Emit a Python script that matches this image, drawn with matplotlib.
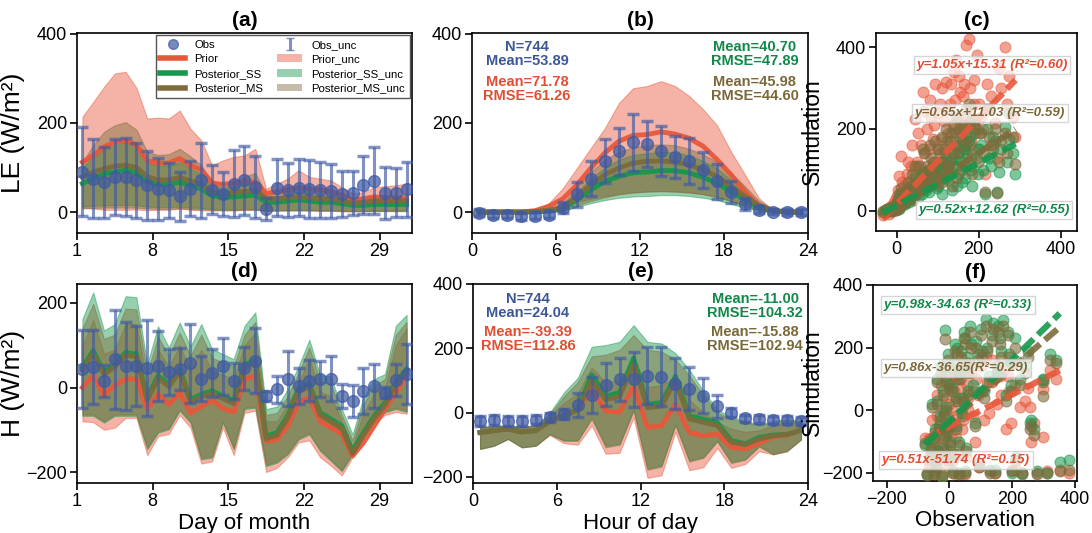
import numpy as np
import matplotlib
matplotlib.use("Agg")
import matplotlib.pyplot as plt
from matplotlib.lines import Line2D
from matplotlib.patches import Patch
from matplotlib.container import ErrorbarContainer
from matplotlib.collections import LineCollection

plt.rcParams['font.family'] = ['Liberation Sans', 'DejaVu Sans']

# ---------------- data ----------------
days = list(range(1, 32))
hours = list(range(0, 24))

# (a) LE daily
a_obs = [90, 75, 67, 79, 79, 71, 60, 52, 49, 35, 52, 71, 50, 40, 64, 71, 56, 7, 55, 49, 55, 52, 50, 47, 41, 43, 60, 70, 43, 43, 51]
a_obs_unc = [100, 88, 80, 85, 88, 85, 78, 70, 62, 55, 62, 85, 55, 50, 75, 78, 70, 25, 65, 60, 65, 65, 63, 60, 52, 50, 65, 75, 58, 55, 62]
a_prior = [112, 127, 146, 157, 161, 150, 115, 110, 110, 120, 105, 95, 65, 62, 65, 67, 68, 42, 45, 50, 55, 52, 50, 46, 38, 26, 30, 34, 32, 30, 30]
a_prior_hi = [214, 247, 281, 311, 315, 279, 210, 212, 210, 228, 187, 161, 105, 116, 124, 127, 142, 52, 64, 75, 94, 79, 75, 71, 56, 41, 45, 56, 58, 60, 64]
a_prior_lo = [10, 8, 5, 5, 5, 6, 4, 5, 5, 8, 5, 4, 3, 4, 4, 5, 5, 2, 4, 4, 5, 4, 3, 3, 2, 1, 2, 3, 3, 3, 3]
a_ss = [64, 75, 86, 90, 94, 88, 68, 62, 62, 67, 60, 52, 36, 33, 34, 36, 38, 22, 22, 25, 27, 25, 22, 22, 19, 15, 15, 17, 17, 17, 17]
a_ss_hi = [101, 122, 140, 150, 158, 148, 112, 104, 104, 112, 98, 85, 58, 55, 58, 62, 66, 35, 36, 40, 45, 40, 36, 35, 30, 23, 25, 28, 28, 28, 28]
a_ss_lo = [12, 14, 15, 15, 16, 15, 12, 11, 11, 12, 10, 9, 7, 6, 6, 7, 7, 4, 4, 5, 5, 5, 4, 4, 3, 3, 3, 3, 3, 3, 3]
a_ms = [79, 90, 97, 103, 105, 100, 80, 72, 72, 78, 70, 62, 45, 42, 44, 46, 49, 30, 30, 32, 34, 32, 30, 30, 26, 20, 22, 25, 25, 25, 25]
a_ms_hi = [112, 150, 180, 195, 202, 185, 135, 128, 130, 142, 125, 105, 68, 65, 70, 79, 88, 41, 47, 50, 56, 52, 50, 48, 41, 30, 33, 38, 38, 38, 38]
a_ms_lo = [8, 9, 10, 10, 10, 10, 8, 7, 7, 8, 7, 6, 5, 4, 4, 5, 5, 3, 3, 3, 3, 3, 3, 3, 2, 2, 2, 2, 2, 2, 2]

# (b) LE hourly
b_obs = [-2, -6, -6, -10, -8, -6, 10, 40, 75, 115, 136, 157, 153, 138, 123, 115, 95, 69, 45, 18, 5, 1, 0, 0]
b_obs_unc = [8, 8, 8, 8, 8, 8, 12, 28, 40, 50, 52, 64, 51, 56, 47, 51, 40, 39, 25, 13, 8, 6, 6, 6]
b_prior = [0, 0, 0, 0, 3, 13, 30, 61, 99, 133, 159, 172, 174, 180, 175, 166, 148, 118, 84, 46, 13, 3, 0, 0]
b_prior_hi = [1, 1, 1, 1, 5, 20, 54, 99, 144, 189, 245, 278, 283, 294, 283, 261, 231, 195, 136, 84, 31, 5, 1, 1]
b_prior_lo = [-1, -1, -1, -1, 0, 3, 12, 22, 30, 36, 40, 44, 46, 47, 46, 44, 40, 34, 25, 14, 4, 0, -1, -1]
b_ss = [0, 0, 0, 0, 0, 2, 7, 28, 50, 69, 80, 88, 90, 93, 93, 88, 78, 65, 46, 28, 10, 3, 0, 0]
b_ss_hi = [2, 2, 2, 2, 2, 6, 18, 45, 75, 100, 118, 128, 132, 135, 134, 128, 115, 98, 72, 45, 18, 5, 2, 2]
b_ss_lo = [-2, -2, -2, -2, -2, 0, 2, 12, 20, 27, 32, 35, 36, 38, 38, 36, 32, 27, 18, 10, 3, 0, -2, -2]
b_ms = [0, 0, 0, 0, 1, 4, 10, 35, 61, 84, 99, 110, 114, 115, 112, 106, 95, 80, 58, 35, 15, 4, 0, 0]
b_ms_hi = [2, 2, 2, 2, 3, 8, 20, 55, 90, 118, 135, 145, 150, 152, 150, 142, 130, 112, 88, 58, 25, 6, 2, 2]
b_ms_lo = [-2, -2, -2, -2, -1, 1, 3, 15, 25, 33, 40, 44, 46, 47, 46, 44, 40, 34, 25, 14, 4, 0, -2, -2]

# (d) H daily
d_obs = [44, 48, 16, 67, 51, 51, 46, 51, 36, 44, 57, 21, 34, 50, 16, 45, 63, -20, -4, 21, 4, 16, 20, 21, -20, -32, -8, 4, -12, 18, 32]
d_obs_unc = [92, 88, 38, 117, 105, 95, 113, 82, 54, 50, 93, 54, 57, 68, 43, 50, 77, 11, 32, 65, 43, 48, 42, 53, 28, 38, 55, 52, 14, 37, 70]
d_prior = [0, 28, -18, 5, 20, 20, -51, -16, -40, -12, -60, -45, -30, -50, -58, 20, 28, -127, -123, -91, -35, -24, -80, -95, -110, -162, -131, -91, -51, -12, 30]
d_prior_hi = [100, 160, 80, 90, 150, 150, 10, 90, 50, 100, 40, 90, 40, 30, 20, 100, 130, -80, -80, -40, 10, 70, -10, -20, -80, -140, -60, -15, 0, 100, 140]
d_prior_lo = [-80, -82, -100, -95, -72, -72, -160, -115, -110, -65, -95, -180, -175, -95, -160, -60, -55, -200, -190, -165, -130, -125, -165, -185, -208, -165, -115, -85, -65, -58, -62]
d_ss = [48, 87, 36, 55, 83, 79, -24, 28, 8, 44, -28, -16, -8, -20, -32, 55, 63, -115, -107, -67, -4, 8, -59, -75, -91, -150, -107, -67, -36, 12, 44]
d_ss_hi = [162, 225, 135, 150, 216, 214, 55, 145, 95, 154, 97, 150, 91, 79, 67, 146, 178, -51, -45, -4, 50, 113, 29, 26, -51, -111, -24, 20, 32, 146, 172]
d_ss_lo = [-67, -67, -83, -67, -67, -67, -146, -107, -99, -55, -83, -170, -166, -83, -146, -51, -48, -186, -178, -158, -123, -111, -150, -174, -198, -158, -107, -79, -59, -51, -58]
d_ms = [42, 80, 30, 50, 77, 73, -30, 22, 2, 38, -34, -22, -14, -26, -38, 49, 57, -121, -113, -73, -10, 2, -65, -81, -97, -156, -113, -73, -42, 6, 38]
d_ms_hi = [140, 198, 115, 125, 187, 185, 35, 120, 75, 130, 75, 125, 70, 60, 50, 125, 155, -65, -60, -20, 35, 95, 15, 10, -65, -125, -40, 5, 20, 125, 155]
d_ms_lo = [-64, -64, -80, -64, -64, -64, -142, -104, -96, -52, -80, -167, -163, -80, -143, -48, -45, -183, -175, -155, -120, -108, -147, -171, -195, -155, -104, -76, -56, -48, -55]

# (e) H hourly
e_obs = [-26, -23, -26, -26, -22, -15, -5, 24, 56, 87, 103, 103, 115, 111, 90, 74, 53, 20, 0, -18, -20, -22, -22, -26]
e_obs_unc = [15, 15, 15, 15, 15, 15, 15, 38, 56, 67, 68, 87, 88, 92, 80, 67, 54, 36, 15, 12, 12, 12, 12, 12]
e_prior = [-62, -56, -51, -60, -56, -26, -10, 10, 72, 5, 2, 82, -46, -41, 26, -62, -72, -67, -108, -113, -95, -75, -70, -55]
e_prior_hi = [-45, -42, -40, -45, -40, -10, 30, 60, 140, 95, 100, 170, 80, 85, 110, 40, 0, -30, -50, -60, -55, -40, -30, -30]
e_prior_lo = [-113, -103, -82, -108, -103, -70, -95, -100, -40, -128, -125, -15, -203, -195, -60, -179, -170, -110, -172, -160, -120, -130, -120, -84]
e_ss = [-62, -56, -51, -60, -56, -26, -10, 10, 118, 51, 62, 169, 26, 31, 113, -10, -21, -31, -87, -97, -77, -70, -68, -55]
e_ss_hi = [-45, -42, -40, -45, -40, 0, 62, 108, 205, 210, 220, 272, 220, 215, 185, 133, 67, 10, -15, -26, -36, -26, -20, -26]
e_ss_lo = [-113, -103, -82, -108, -103, -67, -87, -87, -15, -103, -97, 10, -174, -164, -36, -149, -138, -87, -154, -144, -103, -128, -118, -82]
e_ms = [-62, -56, -51, -60, -56, -26, -10, 8, 100, 40, 50, 150, 15, 20, 100, -20, -30, -40, -92, -100, -82, -72, -68, -55]
e_ms_hi = [-45, -42, -40, -45, -40, -5, 50, 95, 175, 180, 195, 241, 195, 190, 165, 115, 55, 0, -20, -30, -40, -30, -25, -30]
e_ms_lo = [-113, -103, -82, -108, -103, -67, -87, -87, -20, -108, -100, 5, -178, -168, -40, -152, -141, -90, -157, -147, -106, -130, -120, -84]

# (c) LE scatter: observation vs simulations (representative points read from the cloud)
c_obs = [-34, -28, -22, -18, -15, -12, -8, -5, -3, 0, 2, 5, 8, 10, 12, 15, 18, 22, 25, 30, 35, 40, 45, 50, 55, 60, 65, 70, 75, 80,
         85, 90, 95, 100, 105, 110, 115, 120, 125, 130, 135, 140, 145, 150, 155, 160, 165, 170, 176, 180, 185, 190, 195, 200,
         210, 215, 220, 230, 240, 245, 250, 265, 275, 290,
         -25, -20, -10, -6, -2, 1, 3, 6, 9, 14, 20, 28, 33, 38, 42, 48, 52, 58, 62, 68, 72, 78, 82, 88, 92, 98, 102, 108,
         112, 118, 122, 128, 132, 138, 142, 148, 152, 158, 162, 168, 172, 178, 182, 188, 198, 205, 225, 235, 255, 270, 285]
c_prior = [-10, -5, 2, -8, 10, 0, 15, 5, 25, 8, 35, 85, 20, 133, 45, 30, 60, 40, 90, 70, 110, 55, 225, 120, 80, 160, 290, 140, 200, 100,
           230, 175, 310, 150, 260, 120, 220, 315, 190, 260, 95, 340, 370, 230, 290, 180, 310, 405, 420, 250, 140, 320, 380, 260,
           200, 90, 310, 280, 215, 130, 350, 400, 330, 180,
           0, 5, -2, 12, 3, 15, 50, 10, 28, 70, 25, 120, 45, 160, 95, 65, 190, 110, 75, 245, 95, 150, 270, 120, 210, 85, 240, 175,
           300, 140, 250, 160, 310, 200, 270, 110, 330, 210, 280, 150, 230, 300, 170, 260, 150, 230, 250, 160, 300, 260, 230]
c_ss = [-3, 0, 5, 2, 6, 3, 8, 4, 10, 6, 15, 30, 10, 40, 20, 18, 25, 22, 35, 20, 45, 30, 80, 50, 35, 60, 95, 55, 70, 45,
        90, 65, 110, 60, 95, 40, 100, 130, 75, 120, 50, 140, 155, 90, 125, 70, 150, 160, 170, 110, 60, 190, 130, 150,
        100, 40, 200, 110, 170, 45, 95, 205, 175, 90,
        2, 4, 1, 6, 2, 8, 20, 5, 14, 30, 15, 50, 28, 60, 45, 40, 70, 55, 40, 90, 50, 80, 100, 70, 90, 55, 110, 100,
        120, 80, 110, 90, 130, 110, 160, 60, 140, 120, 170, 80, 140, 180, 100, 200, 90, 160, 130, 180, 150, 120, 140]
c_ms = [-2, 0, 3, 0, 5, 2, 10, 3, 12, 5, 20, 40, 12, 55, 25, 15, 30, 28, 50, 35, 60, 25, 110, 65, 45, 90, 150, 75, 110, 60,
        130, 95, 170, 80, 140, 70, 150, 200, 110, 170, 60, 210, 230, 140, 180, 100, 210, 250, 260, 160, 90, 220, 200, 190,
        140, 45, 250, 160, 200, 43, 120, 190, 240, 115,
        1, 3, 0, 8, 2, 10, 25, 6, 18, 40, 20, 70, 30, 90, 60, 45, 110, 70, 55, 140, 65, 100, 160, 85, 120, 65, 150, 120,
        180, 100, 170, 120, 190, 140, 190, 80, 200, 160, 200, 110, 180, 220, 130, 210, 120, 190, 180, 150, 170, 140, 180]
c_fit_range = [-34, 290]

# (f) H scatter
f_obs = [-77, -70, -60, -55, -50, -45, -40, -35, -30, -25, -20, -15, -14, -10, -5, 0, 5, 10, 15, 20, 25, 30, 35, 40, 45, 50,
         55, 60, 70, 80, 90, 100, 110, 120, 130, 140, 150, 160, 171, 180, 190, 200, 213, 223, 240, 255, 269, 280, 297, 299,
         320, 351, 381,
         -65, -48, -42, -38, -32, -28, -22, -18, -12, -8, -3, 2, 7, 12, 18, 22, 28, 32, 38, 42, 48, 52, 58, 65, 75, 85, 95,
         105, 115, 125, 135, 145, 155, 165, 185, 195, 210, 230, 250, 260, 310, 340]
f_prior = [-90, -200, -150, -30, -210, -100, 50, -160, -60, -205, 0, -120, 130, -40, -180, 20, -80, -200, 60, -20, 100, -140,
           40, -60, 150, -205, 80, 0, 120, -100, 50, 140, -30, 90, -195, 160, 20, 110, 130, -60, 60, -190, -191, 11, 30, 11,
           -40, -200, 69, -85, 130, -190, -200,
           -180, -120, -190, -20, -90, 80, -150, -60, 40, -100, 90, -130, 0, -160, 110, -90, 30, -210, 70, -30, 120, -150, 40,
           150, -20, 100, -180, 60, 170, -10, 90, -200, 130, 50, 110, -40, 80, -200, 70, -100, -195, 100]
f_ss = [-105, -205, -120, 20, -200, -60, 100, -130, -20, -210, 60, -80, 255, 10, -150, 80, -40, -195, 150, 40, 200, -100,
        120, -10, 250, -195, 170, 60, 210, -40, 180, 260, 60, 200, -190, 280, 140, 230, 287, 50, 180, -200, -150, 100, 140,
        -40, -59, -195, 101, 96, 180, -165, -160,
        -150, -90, -170, 30, -50, 140, -120, -10, 110, -60, 180, -100, 70, -140, 210, -50, 120, -200, 190, 40, 230, -120, 140,
        270, 80, 220, -170, 190, 290, 110, 240, -190, 270, 190, 250, 80, 230, -205, 190, -30, -200, 160]
f_ms = [-110, -208, -130, 10, -205, -70, 90, -140, -30, -212, 50, -90, 229, 0, -160, 70, -50, -200, 130, 30, 180, -110,
        100, -20, 230, -200, 150, 50, 200, -50, 160, 240, 40, 190, -200, 260, 120, 210, 270, 30, 170, -195, -160, 80, 120,
        -60, -80, -205, 90, 45, 160, -195, -192,
        -160, -100, -180, 20, -60, 120, -130, -20, 90, -70, 160, -110, 60, -150, 190, -60, 100, -205, 170, 30, 210, -130, 120,
        250, 60, 200, -180, 170, 270, 90, 220, -200, 250, 170, 240, 60, 200, -200, 170, -50, -200, 150]
f_fit_range = [-77, 351]

# regression annotations (slope, intercept, label)
c_fits = {'prior': (1.05, 15.31, 'y=1.05x+15.31 (R²=0.60)'),
          'ms': (0.65, 11.03, 'y=0.65x+11.03 (R²=0.59)'),
          'ss': (0.52, 12.62, 'y=0.52x+12.62 (R²=0.55)')}
f_fits = {'ss': (0.98, -34.63, 'y=0.98x-34.63 (R²=0.33)'),
          'ms': (0.86, -36.65, 'y=0.86x-36.65(R²=0.29)'),
          'prior': (0.51, -51.74, 'y=0.51x-51.74 (R²=0.15)')}

b_stats = {'obs': ['N=744', 'Mean=53.89'], 'prior': ['Mean=71.78', 'RMSE=61.26'],
           'ss': ['Mean=40.70', 'RMSE=47.89'], 'ms': ['Mean=45.98', 'RMSE=44.60']}
e_stats = {'obs': ['N=744', 'Mean=24.04'], 'prior': ['Mean=-39.39', 'RMSE=112.86'],
           'ss': ['Mean=-11.00', 'RMSE=104.32'], 'ms': ['Mean=-15.88', 'RMSE=102.94']}

# ---------------- style ----------------
C_OBS = '#3f5aa3'
C_PRIOR = '#e8573a'
C_SS = '#16974c'
C_MS = '#7d6c3c'
T_OBS = '#3c5797'
T_PRIOR = '#e04f33'
T_SS = '#10884a'
T_MS = '#7a6838'
BAND_A = 0.45

fig = plt.figure(figsize=(10.92, 5.33), dpi=100)
ax_a = fig.add_axes([0.0705, 0.5629, 0.3068, 0.3752])
ax_b = fig.add_axes([0.4322, 0.5629, 0.3077, 0.3752])
ax_c = fig.add_axes([0.8022, 0.5666, 0.1841, 0.3715])
ax_d = fig.add_axes([0.0705, 0.0938, 0.3068, 0.3734])
ax_e = fig.add_axes([0.4332, 0.0938, 0.3067, 0.3734])
ax_f = fig.add_axes([0.7995, 0.0976, 0.1868, 0.3677])


def style_axis(ax):
    for s in ax.spines.values():
        s.set_linewidth(1.2)
    ax.tick_params(labelsize=13, length=5, width=1.2, direction='out', pad=2)


def ts_panel(ax, x, obs, obs_unc, prior, prior_lo, prior_hi, ss, ss_lo, ss_hi, ms, ms_lo, ms_hi):
    ax.fill_between(x, prior_lo, prior_hi, color=C_PRIOR, alpha=BAND_A, lw=0.8, zorder=1)
    ax.fill_between(x, ss_lo, ss_hi, color=C_SS, alpha=BAND_A, lw=0.8, zorder=2)
    ax.fill_between(x, ms_lo, ms_hi, color=C_MS, alpha=BAND_A, lw=0.8, zorder=3)
    ax.plot(x, prior, color=C_PRIOR, lw=3.5, alpha=0.95, zorder=4)
    ax.plot(x, ss, color=C_SS, lw=3.5, alpha=0.95, zorder=5)
    ax.plot(x, ms, color=C_MS, lw=3.5, alpha=0.95, zorder=6)
    ax.errorbar(x, obs, yerr=obs_unc, fmt='none', ecolor=C_OBS, elinewidth=2.2,
                capsize=4.5, capthick=2.5, alpha=0.65, zorder=7)
    ax.plot(x, obs, 'o', color=C_OBS, ms=8.5, alpha=0.72, mec=C_OBS, zorder=8)


xd = np.array(days) + 0.5
xh = np.array(hours) + 0.5

ts_panel(ax_a, xd, a_obs, a_obs_unc, a_prior, a_prior_lo, a_prior_hi, a_ss, a_ss_lo, a_ss_hi, a_ms, a_ms_lo, a_ms_hi)
ts_panel(ax_b, xh, b_obs, b_obs_unc, b_prior, b_prior_lo, b_prior_hi, b_ss, b_ss_lo, b_ss_hi, b_ms, b_ms_lo, b_ms_hi)
ts_panel(ax_d, xd, d_obs, d_obs_unc, d_prior, d_prior_lo, d_prior_hi, d_ss, d_ss_lo, d_ss_hi, d_ms, d_ms_lo, d_ms_hi)
ts_panel(ax_e, xh, e_obs, e_obs_unc, e_prior, e_prior_lo, e_prior_hi, e_ss, e_ss_lo, e_ss_hi, e_ms, e_ms_lo, e_ms_hi)

for ax in (ax_a, ax_d):
    ax.set_xlim(1, 32)
    ax.set_xticks([1, 8, 15, 22, 29])
for ax in (ax_b, ax_e):
    ax.set_xlim(0, 24)
    ax.set_xticks([0, 6, 12, 18, 24])
ax_a.set_ylim(-47, 402)
ax_b.set_ylim(-47, 402)
ax_a.set_yticks([0, 200, 400])
ax_b.set_yticks([0, 200, 400])
ax_d.set_ylim(-226, 245)
ax_d.set_yticks([-200, 0, 200])
ax_e.set_ylim(-219, 400)
ax_e.set_yticks([-200, 0, 200, 400])

ax_a.set_ylabel('LE (W/m²)', fontsize=19)
ax_d.set_ylabel('H (W/m²)', fontsize=19)
ax_a.yaxis.set_label_coords(-0.155, 0.5)
ax_d.yaxis.set_label_coords(-0.155, 0.5)
ax_d.set_xlabel('Day of month', fontsize=16, labelpad=2)
ax_e.set_xlabel('Hour of day', fontsize=16, labelpad=2)

# legend in (a)
h_obs = Line2D([], [], marker='o', ls='none', color=C_OBS, ms=7, alpha=0.7)
h_prior = Line2D([], [], color=C_PRIOR, lw=4)
h_ss = Line2D([], [], color=C_SS, lw=4)
h_ms = Line2D([], [], color=C_MS, lw=4)
eb_caps = (Line2D([], [], marker='_', color=C_OBS, alpha=0.65),)
eb_bar = LineCollection([], colors=C_OBS, linewidths=2.2, alpha=0.65)
h_obs_unc = ErrorbarContainer((None, eb_caps, (eb_bar,)), has_xerr=False, has_yerr=True)
h_prior_unc = Patch(facecolor=C_PRIOR, alpha=BAND_A, lw=0)
h_ss_unc = Patch(facecolor=C_SS, alpha=BAND_A, lw=0)
h_ms_unc = Patch(facecolor=C_MS, alpha=BAND_A, lw=0)
leg = ax_a.legend([h_obs, h_prior, h_ss, h_ms, h_obs_unc, h_prior_unc, h_ss_unc, h_ms_unc],
                  ['Obs', 'Prior', 'Posterior_SS', 'Posterior_MS', 'Obs_unc', 'Prior_unc',
                   'Posterior_SS_unc', 'Posterior_MS_unc'],
                  ncol=2, loc='upper right', fontsize=8.2, frameon=True, fancybox=False,
                  edgecolor='#555555', framealpha=1, borderaxespad=0.2, handlelength=2.2,
                  columnspacing=1.2, labelspacing=0.4, borderpad=0.4)
leg.get_frame().set_linewidth(1.0)
leg.set_zorder(20)


def stats_text(ax, stats, ys):
    ax.text(0.164, ys[0], stats['obs'][0] + '\n' + stats['obs'][1], transform=ax.transAxes, ha='center', va='top',
            color=T_OBS, fontsize=10.5, fontweight='bold', linespacing=1.0, zorder=10)
    ax.text(0.164, ys[1], stats['prior'][0] + '\n' + stats['prior'][1], transform=ax.transAxes, ha='center', va='top',
            color=T_PRIOR, fontsize=10.5, fontweight='bold', linespacing=1.0, zorder=10)
    ax.text(0.842, ys[0], stats['ss'][0] + '\n' + stats['ss'][1], transform=ax.transAxes, ha='center', va='top',
            color=T_SS, fontsize=10.5, fontweight='bold', linespacing=1.0, zorder=10)
    ax.text(0.842, ys[1], stats['ms'][0] + '\n' + stats['ms'][1], transform=ax.transAxes, ha='center', va='top',
            color=T_MS, fontsize=10.5, fontweight='bold', linespacing=1.0, zorder=10)


stats_text(ax_b, b_stats, (0.965, 0.79))
stats_text(ax_e, e_stats, (0.96, 0.795))


def scatter_panel(ax, obs, prior, ss, ms, fit_range, fits, text_pos):
    ax.scatter(obs, prior, s=62, color=C_PRIOR, alpha=0.55, lw=0.8, zorder=2)
    ax.scatter(obs, ss, s=62, color=C_SS, alpha=0.55, lw=0.8, zorder=3)
    ax.scatter(obs, ms, s=62, color=C_MS, alpha=0.6, lw=0.8, zorder=4)
    xr = np.array(fit_range, dtype=float)
    cols = {'prior': C_PRIOR, 'ss': C_SS, 'ms': C_MS}
    tcols = {'prior': T_PRIOR, 'ss': T_SS, 'ms': T_MS}
    for key, z in (('prior', 5), ('ms', 6), ('ss', 7)):
        k, b0, lab = fits[key]
        ax.plot(xr, k * xr + b0, color=cols[key], lw=4.5, ls=(0, (2.6, 1.0)), alpha=0.9, zorder=z)
        tx, ty = text_pos[key]
        ax.text(tx, ty, lab, transform=ax.transAxes, ha='center', va='center', color=tcols[key],
                fontsize=9.6, fontweight='bold', fontstyle='italic', zorder=10,
                bbox=dict(boxstyle='square,pad=0.2', facecolor='white', alpha=0.75, edgecolor='#c8c8c8', lw=1))


scatter_panel(ax_c, c_obs, c_prior, c_ss, c_ms, c_fit_range, c_fits,
              {'prior': (0.577, 0.838), 'ms': (0.567, 0.596), 'ss': (0.587, 0.106)})
scatter_panel(ax_f, f_obs, f_prior, f_ss, f_ms, f_fit_range, f_fits,
              {'ss': (0.417, 0.898), 'ms': (0.407, 0.577), 'prior': (0.407, 0.107)})
ax_c.set_xlim(-50, 440)
ax_c.set_ylim(-50, 435)
ax_c.set_xticks([0, 200, 400])
ax_c.set_yticks([0, 200, 400])
ax_f.set_xlim(-243, 406)
ax_f.set_ylim(-226, 400)
ax_f.set_xticks([-200, 0, 200, 400])
ax_f.set_yticks([-200, 0, 200, 400])
ax_c.set_ylabel('Simulation', fontsize=16.5)
ax_f.set_ylabel('Simulation', fontsize=16.5)
ax_c.yaxis.set_label_coords((824 - 876) / 201, 0.5)
ax_f.yaxis.set_label_coords((824 - 873) / 204, 0.5)
ax_f.set_xlabel('Observation', fontsize=16, labelpad=2)

for ax, t in zip((ax_a, ax_b, ax_c, ax_d, ax_e, ax_f), ('(a)', '(b)', '(c)', '(d)', '(e)', '(f)')):
    style_axis(ax)
    ax.set_title(t, fontsize=15, fontweight='bold', pad=5)

fig.savefig('out.png', dpi=100)
